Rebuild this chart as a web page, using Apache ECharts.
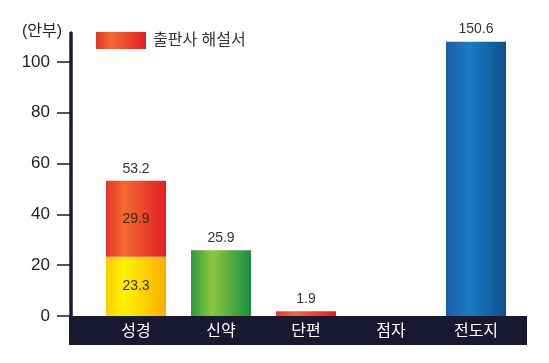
<!DOCTYPE html>
<html>
<head>
<meta charset="utf-8">
<script src="https://cdn.jsdelivr.net/npm/echarts@6/dist/echarts.min.js"></script>
<style>html,body{margin:0;padding:0;background:#fff;}#c{width:549px;height:363px;}</style>
</head>
<body>
<div id="c"></div>
<script>
// ---- data ----
const categories = ['성경', '신약', '단편', '점자', '전도지'];
const baseValues = [23.3, 25.9, 1.9, null, 150.6];
const commentaryValues = [29.9, null, null, null, null];
const totalValues = [53.2, null, null, null, null];
const yTicks = [0, 20, 40, 60, 80, 100];
const unitLabel = '(안부)';
const legendName = '출판사 해설서';
const displayCap = 108; // broken-axis cap for the tall bar

const FONT = '"Liberation Sans", Arial, "Noto Sans CJK KR", sans-serif';
function grad(stops) {
  return new echarts.graphic.LinearGradient(0, 0, 1, 0, stops.map(s => ({offset: s[0], color: s[1]})));
}
const gYellow = grad([[0, '#fbcc00'], [0.3, '#fff200'], [1, '#f7b000']]);
const gRed = grad([[0, '#e8322a'], [0.3, '#f26a32'], [1, '#e31e24']]);
const gGreen = grad([[0, '#2e9a3e'], [0.35, '#8dc63f'], [1, '#1a8f42']]);
const gBlue = grad([[0, '#1a5ea6'], [0.4, '#1a7cc7'], [1, '#0e4e8c']]);
const baseColors = [gYellow, gGreen, gRed, gRed, gBlue];

const chart = echarts.init(document.getElementById('c'), null, {renderer: 'canvas'});
const baseData = baseValues.map((v, i) => {
  if (v == null) return {value: null};
  const inside = i === 0;
  return {
    value: Math.min(v, displayCap),
    itemStyle: {color: baseColors[i]},
    label: {
      show: true,
      position: inside ? 'inside' : 'top',
      distance: 5,
      formatter: () => v.toFixed(1),
      color: inside ? '#3a2a10' : '#333',
      fontSize: 14,
      fontFamily: FONT
    }
  };
});
chart.setOption({
  animation: false,
  grid: {left: 93.5, right: 30.5, top: 33, bottom: 47, containLabel: false},
  legend: {
    data: [{name: legendName, icon: 'rect', itemStyle: {color: gRed}}],
    left: 96, top: 32, padding: 0, itemWidth: 50, itemHeight: 17, itemGap: 10,
    textStyle: {fontSize: 16, color: '#333', fontFamily: FONT, padding: [0, 0, 0, 2]}
  },
  xAxis: {
    type: 'category',
    data: categories,
    axisLine: {show: false},
    axisTick: {show: false},
    axisLabel: {color: '#ffffff', fontSize: 16, margin: 8, fontFamily: FONT}
  },
  yAxis: {
    type: 'value', min: 0, max: 111.4, interval: 20, offset: 22.5,
    splitLine: {show: false},
    axisLine: {show: true, lineStyle: {color: '#1a1a30', width: 3.5}},
    axisTick: {show: true, length: 14, customValues: yTicks, lineStyle: {color: '#1a1a30', width: 1.5}},
    axisLabel: {customValues: yTicks, margin: 21, fontSize: 17, color: '#222', fontFamily: FONT}
  },
  graphic: [
    {type: 'rect', shape: {x: 69, y: 316, width: 458, height: 29}, style: {fill: '#181830'}, z: 0, silent: true},
    {type: 'text', left: 22, top: 24, style: {text: unitLabel, fill: '#222', font: '16px ' + FONT}}
  ],
  series: [
    {name: '기본', type: 'bar', stack: 's', barWidth: 60, data: baseData, z: 2},
    {
      name: legendName, type: 'bar', stack: 's', barWidth: 60, z: 2,
      itemStyle: {color: gRed},
      label: {show: true, position: 'inside', color: '#3a2a10', fontSize: 14, fontFamily: FONT,
        formatter: p => p.value == null ? '' : p.value.toFixed(1)},
      data: commentaryValues
    },
    {
      name: '합계', type: 'bar', stack: 's', barWidth: 60, z: 2,
      itemStyle: {color: 'transparent'},
      label: {show: true, position: 'top', distance: 5, color: '#333', fontSize: 14, fontFamily: FONT,
        formatter: p => totalValues[p.dataIndex] == null ? '' : totalValues[p.dataIndex].toFixed(1)},
      data: totalValues.map(v => v == null ? null : 0)
    }
  ]
});
</script>
</body>
</html>
